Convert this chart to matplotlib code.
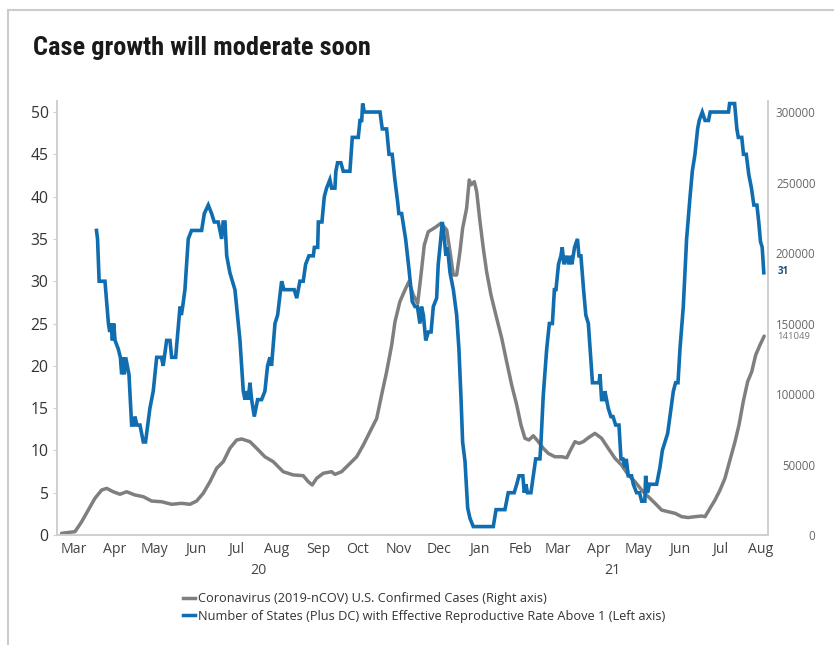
import matplotlib
matplotlib.use('Agg')
import matplotlib.pyplot as plt
import matplotlib.dates as mdates
import matplotlib.transforms as mtransforms
from matplotlib import font_manager
from matplotlib.lines import Line2D
import pandas as pd

plt.rcParams['font.family'] = ['Open Sans', 'DejaVu Sans']

# Series: (days since 2020-03-01, value)
blue_points = [
    (31, 36), (31.8, 35), (33, 30), (37.4, 30), (40, 25), (41, 24), (42, 25), (43, 23), (44, 25),
    (45, 23), (47.4, 22), (49, 21), (50, 19), (51, 21), (52, 19), (53, 21), (55.5, 19), (57.5, 13),
    (59, 13), (60, 14), (61.5, 13), (63.8, 13), (66.3, 11), (68, 11), (71.3, 15), (73.8, 17),
    (76.4, 21), (80, 21), (81.3, 20), (83.9, 23), (86.4, 23), (87.7, 21), (90.7, 21), (94, 27),
    (95, 26), (96, 27), (97.7, 29), (100.2, 35), (102.7, 36), (110.3, 36), (112.3, 38), (115.3, 39),
    (117.8, 38), (119.8, 37), (122.8, 37), (125.4, 35), (126.5, 37), (127.9, 37), (129.2, 33),
    (131.6, 31), (135.4, 29), (137.9, 25), (139.2, 23), (141.7, 17), (143, 16), (144.2, 17),
    (145.5, 16), (146.7, 18), (148, 16), (150, 14), (152.5, 16), (155.5, 16), (158, 17), (160, 20),
    (161.8, 21), (163, 20), (165.6, 25), (167.6, 26), (170.6, 30), (172.4, 29), (180.1, 29),
    (182, 28), (184.4, 30), (186.9, 30), (188.7, 32), (191.2, 33), (194.5, 33), (195.3, 34),
    (197.8, 34), (198.3, 37), (201, 37), (202.8, 40), (204.5, 41), (207, 42), (208.3, 41),
    (210.8, 41), (211.5, 43), (212.8, 44), (215.3, 44), (217.1, 43), (222.1, 43), (223.9, 47),
    (228.4, 47), (229.7, 49), (231, 49), (231.7, 51), (233, 50), (244.8, 50), (246.5, 48),
    (249.8, 48), (251.6, 45), (254, 45), (256, 42), (258, 39.5), (259, 38), (261.1, 38), (264.1, 35),
    (266.6, 31.5), (269.1, 27.6), (271.2, 27), (273, 27), (274.9, 25), (276.1, 27), (277.5, 26),
    (279.3, 23), (281.3, 24), (283.3, 24), (285, 27), (287.5, 28), (288.7, 32), (290, 34),
    (291.8, 37), (293.3, 35), (294.5, 33), (295, 34), (296.3, 33), (297.6, 31), (300.1, 29),
    (302.6, 26), (304.3, 22), (305.8, 16.5), (307.1, 11), (308.9, 8.7), (310.9, 3.2), (312.6, 2),
    (315.1, 1), (330.2, 1), (332.3, 3), (339, 3), (341.5, 5), (346, 5), (347.9, 6), (349.6, 7),
    (352.5, 7), (353.6, 5), (354.8, 6), (356, 5), (358.6, 5), (360.4, 7), (362.2, 9), (365.4, 9),
    (366.2, 11), (367.9, 16.5), (370.5, 22), (372.5, 25), (374.8, 25), (376.3, 29), (377.5, 29),
    (379.4, 32), (381.2, 33), (382.2, 34), (383.5, 32), (385.5, 33), (387, 32), (388.3, 33),
    (389.5, 32), (391.5, 34), (393.7, 35), (394.8, 33), (396.3, 33), (398.3, 29), (400, 26),
    (401.9, 25), (403.2, 22), (405, 18), (410, 18), (410.7, 19), (411.9, 16), (413.5, 16),
    (414.4, 17), (416.9, 15), (418.9, 14), (420.5, 14), (422.5, 13), (425, 13), (426.5, 9),
    (428, 9), (429.5, 8), (430.5, 9), (432, 7), (434.5, 7), (435.8, 6), (438.3, 5), (440.5, 5),
    (442.1, 4), (444.5, 4), (445.1, 7), (446.5, 5), (448, 6), (453.4, 6), (455.9, 8), (457.7, 10),
    (459.7, 11), (461.7, 12), (463.4, 14), (466, 17), (467.7, 18), (469.5, 18), (471, 22),
    (473.5, 27), (476, 35), (478.6, 40), (480.3, 43), (482.3, 45), (484.3, 48), (485.5, 49),
    (487.8, 50), (489.9, 49), (492.5, 49), (493.8, 50), (507.6, 50), (508.4, 51), (512.2, 51),
    (513.9, 48), (515, 47), (517.6, 47), (518.9, 45), (521, 45), (522.9, 42.6), (524.9, 41),
    (526.7, 39), (529, 39), (530.4, 37), (531.7, 34.7), (533, 34), (534.2, 31),
]

gray_points = [
    (4.7, 1200), (14.8, 2400), (19.8, 9400), (24.8, 17700), (29.8, 26000), (34.9, 31900),
    (38.7, 33100), (43.6, 30700), (48.7, 28900), (53.7, 30700), (60, 28400), (66.3, 27200),
    (72.6, 24100), (80.1, 23600), (87.7, 21800), (95.2, 22500), (101.5, 21800), (106.5, 24100),
    (111.5, 29600), (116.6, 37800), (121.6, 47300), (126.6, 52000), (131.6, 61500), (136.7, 67400),
    (140.5, 68100), (146.7, 66200), (151.8, 61500), (158, 55500), (164.3, 52000), (171.8, 44900),
    (179.4, 42600), (186.9, 42100), (190.7, 37800), (193.7, 35500), (197, 40200), (202, 43800),
    (208.3, 44900), (210.8, 43000), (215.8, 44900), (220.9, 49600), (227.2, 55500), (232.2, 63800),
    (237.2, 73200), (242.3, 82700), (246, 99300), (249.8, 115800), (253.6, 134700), (256.1, 151300),
    (259.8, 165500), (263.6, 173800), (266.6, 179700), (269.9, 170200), (273.2, 164300),
    (275.7, 184400), (278.2, 205700), (281.2, 215100), (286.2, 218000), (290.8, 221100),
    (295.1, 216300), (297.6, 201000), (300.1, 184400), (302.6, 184400), (305.1, 201000),
    (307.1, 217500), (310.1, 231700), (312.1, 251800), (313.5, 248400), (315.9, 250600),
    (317.7, 243500), (320.2, 222200), (322.7, 203300), (325.2, 186700), (328.5, 170200),
    (332.8, 153700), (336.6, 139500), (340.3, 122900), (344.1, 106400), (347.9, 92200),
    (351.1, 78000), (354.1, 68600), (357.1, 67400), (360.4, 70400), (364.2, 66200), (367.9, 61500),
    (371.7, 57900), (376.7, 55500), (381.8, 55500), (385.6, 54800), (388.1, 59600), (391.8, 66200),
    (394.8, 65000), (398.1, 66200), (401.9, 69000), (406.9, 72100), (411.9, 68600), (416.9, 61500),
    (422, 54400), (427, 49600), (432, 42600), (437.1, 37800), (442.1, 31900), (447.1, 27200),
    (452.2, 22500), (457.2, 17700), (462.2, 16500), (467.3, 15400), (472.3, 13000), (477.3, 12400),
    (482.3, 13000), (487.4, 13500), (489.9, 13000), (493.6, 18900), (497.4, 24800), (501.2, 31900),
    (504.9, 40200), (508.7, 53200), (512.5, 66200), (515.5, 78000), (518.7, 94500), (522, 108700),
    (525.1, 115800), (528.1, 127700), (531.3, 134700), (534.5, 141049),
]

left_ticks = [0, 5, 10, 15, 20, 25, 30, 35, 40, 45, 50]
right_ticks = [0, 50000, 100000, 150000, 200000, 250000, 300000]
year_labels = [('20', 153), ('21', 420)]  # (label, day it is centred on)
legend_labels = ['Coronavirus (2019-nCOV) U.S. Confirmed Cases (Right axis)',
                 'Number of States (Plus DC) with Effective Reproductive Rate Above 1 (Left axis)']

BLUE = '#0f6db0'
GRAY = '#7f7f7f'
SPINE = '#d0d0d0'
start = pd.Timestamp('2020-03-01')


def to_dates(days):
    return start + pd.to_timedelta(days, unit='D')


blue_x = to_dates([p[0] for p in blue_points])
blue_y = [p[1] for p in blue_points]
gray_x = to_dates([p[0] for p in gray_points])
gray_y = [p[1] for p in gray_points]

fig = plt.figure(figsize=(8.34, 6.45), dpi=100)
ax = fig.add_axes([0.0683, 0.1705, 0.8526, 0.6729])
ax2 = ax.twinx()

ax2.plot(gray_x, gray_y, color=GRAY, lw=2.5, solid_capstyle='round')
ax.plot(blue_x, blue_y, color=BLUE, lw=2.6, solid_joinstyle='miter')
ax.set_zorder(ax2.get_zorder() + 1)
ax.patch.set_visible(False)

ax.set_xlim(to_dates(1.2), to_dates(537.4))
ax.set_ylim(0, 51.3)
ax2.set_ylim(0, 51.3 * 6000)

ax.set_yticks(left_ticks)
ax2.set_yticks(right_ticks)
ax.tick_params(axis='y', labelsize=11.3, colors=SPINE, labelcolor='#333333', length=3, pad=3)
ax2.tick_params(axis='y', labelsize=8.3, length=0, labelcolor='#666666', pad=6)
for lab in ax2.get_yticklabels():
    lab.set_horizontalalignment('right')
    lab.set_x(1.055)

# month labels centred mid-month
ax.xaxis.set_major_locator(mdates.MonthLocator(bymonthday=15))
ax.xaxis.set_major_formatter(mdates.DateFormatter('%b'))
ax.tick_params(axis='x', labelsize=10.2, length=0, labelcolor='#444444', pad=5)

for a in (ax, ax2):
    a.spines['top'].set_visible(False)
    for side in ('left', 'right', 'bottom'):
        a.spines[side].set_color(SPINE)
        a.spines[side].set_linewidth(1.3)

trans = mtransforms.blended_transform_factory(ax.transData, fig.transFigure)
for text, day in year_labels:
    ax.text(to_dates(day), 1 - 571 / 645, text, transform=trans, ha='center', va='center',
            fontsize=10.2, color='#444444')

# end-value labels
fig.text(778 / 834, 1 - 272 / 645, '31', fontsize=7, color='#1f4e79',
         fontweight='bold', ha='left', va='center')
fig.text(810 / 834, 1 - 337 / 645, '141049', fontsize=6.8, color='#777777',
         ha='right', va='center')

# title: prefer a condensed bold face, then fit to the source width
names = {f.name for f in font_manager.fontManager.ttflist}
title_family = 'Roboto'
for cand in ['Roboto Condensed', 'Liberation Sans Narrow', 'Open Sans Condensed',
             'Noto Sans Condensed', 'DejaVu Sans Condensed', 'Inter']:
    if cand in names:
        title_family = cand
        break
title = fig.text(33 / 834, 1 - 48 / 645, 'Case growth will moderate soon',
                 family=title_family, fontweight='bold', fontstretch='condensed',
                 fontsize=17, color='#1a1a1a', ha='left', va='center')
renderer = fig.canvas.get_renderer()
w = title.get_window_extent(renderer).width
title.set_fontsize(min(20, 17 * 338 / w))

handles = [Line2D([], [], color=GRAY, lw=2.5), Line2D([], [], color=BLUE, lw=2.5)]
fig.legend(handles, legend_labels, loc='upper left', bbox_to_anchor=(178 / 834, 1 - 587 / 645),
           frameon=False, fontsize=9.2, handlelength=0.9, handletextpad=0.3,
           labelspacing=0.35, labelcolor='#333333', borderaxespad=0)

# light frame on top and left like the source
fig.add_artist(Line2D([8 / 834, 1], [1 - 10 / 645, 1 - 10 / 645], color='#cccccc', lw=1.5))
fig.add_artist(Line2D([8 / 834, 8 / 834], [0, 1 - 10 / 645], color='#cccccc', lw=1.5))

fig.savefig('out.png', dpi=100)
